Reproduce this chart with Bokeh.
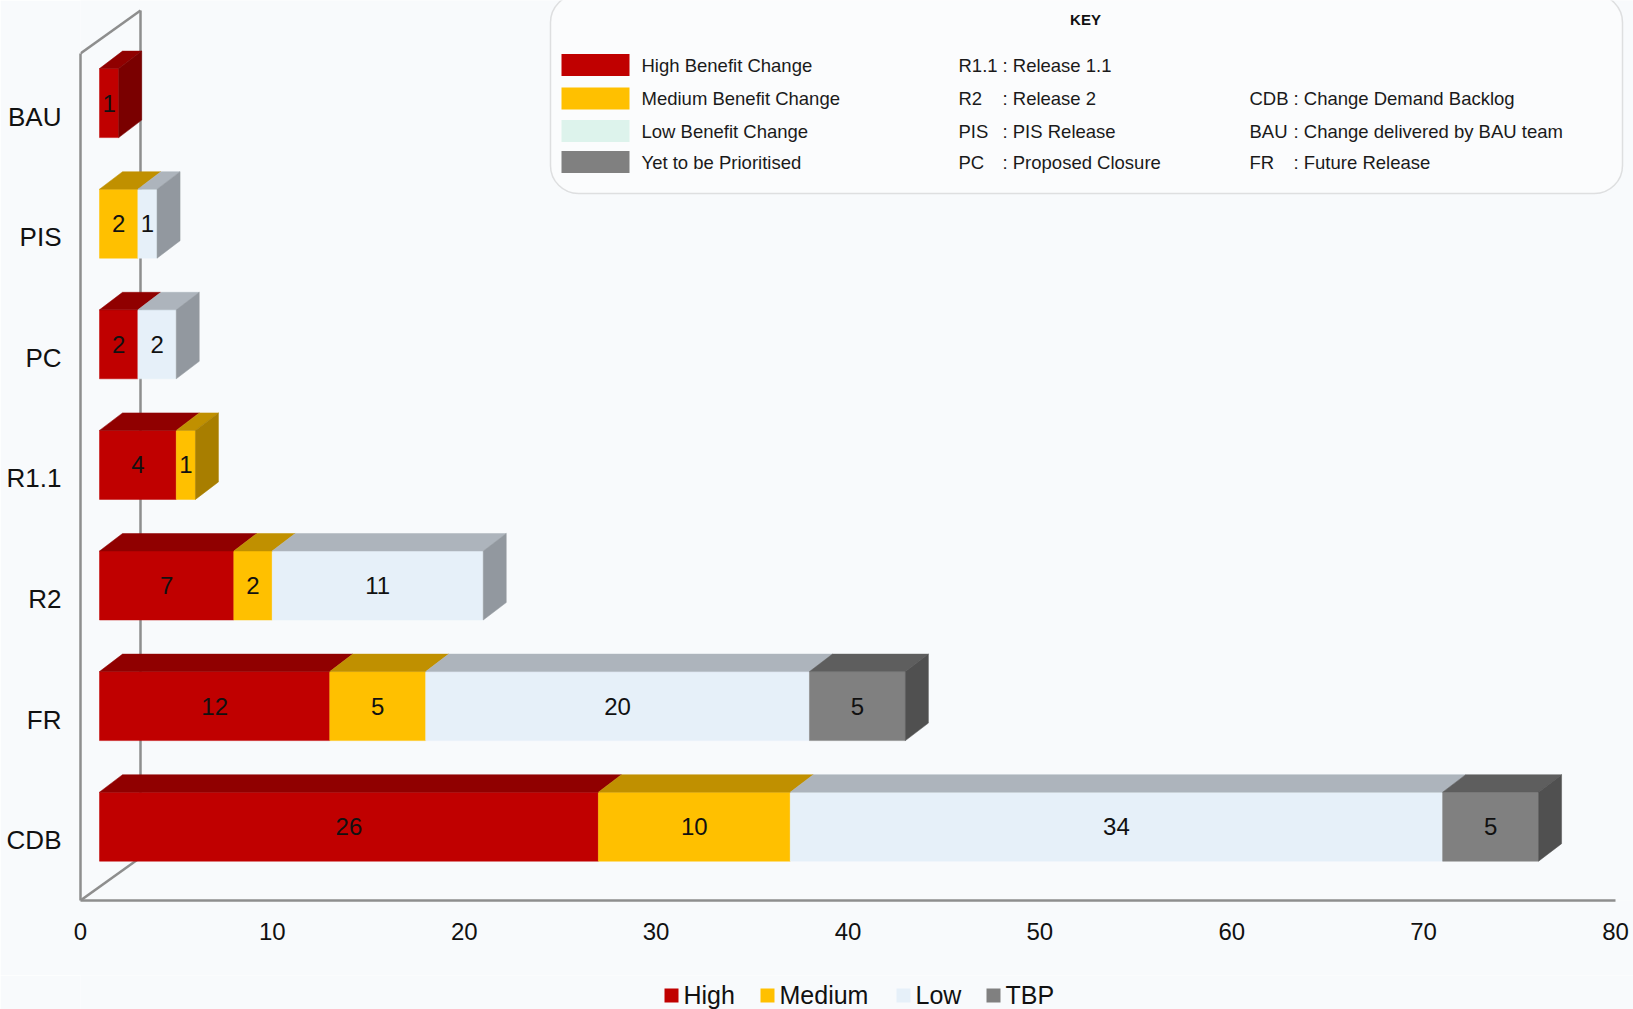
from bokeh.plotting import figure
from bokeh.layouts import column
from bokeh.models import Range1d, FixedTicker, ColumnDataSource, BoxAnnotation
from bokeh.core.properties import value
from bokeh.embed import file_html
from bokeh.resources import INLINE

# ---------------- data ----------------
categories = ["BAU", "PIS", "PC", "R1.1", "R2", "FR", "CDB"]   # top to bottom
high   = [1, 0, 2, 4, 7, 12, 26]
medium = [0, 2, 0, 1, 2, 5, 10]
low    = [0, 1, 2, 0, 11, 20, 34]
tbp    = [0, 0, 0, 0, 0, 5, 5]
series_names = ["High", "Medium", "Low", "TBP"]
x_ticks = [0, 10, 20, 30, 40, 50, 60, 70, 80]

key_swatch_labels = ["High Benefit Change", "Medium Benefit Change",
                     "Low Benefit Change", "Yet to be Prioritised"]
key_abbr_1 = ["R1.1", "R2", "PIS", "PC"]
key_desc_1 = ["Release 1.1", "Release 2", "PIS Release", "Proposed Closure"]
key_abbr_2 = ["CDB", "BAU", "FR"]
key_desc_2 = ["Change Demand Backlog", "Change delivered by BAU team", "Future Release"]

# ---------------- styles ----------------
front_colors = ["#C00000", "#FFC000", "#E6F0F9", "#808080"]
top_colors   = ["#900000", "#C09000", "#ADB4BC", "#5E5E5E"]
side_colors  = ["#7A0000", "#A87E00", "#92989F", "#505050"]
key_colors   = ["#C00000", "#FFC000", "#DDF3EC", "#808080"]
BG = "#F8FAFC"
FONT = value("Liberation Sans")
LINE = "#8E8E8E"

W = 1633
H_MAIN = 975
H_LEG = 34
FRAME_L = 80          # px (value 0)
FRAME_B = 900         # px (floor)
PX_X = (1615 - 80) / 80.0   # px per value unit
PX_Y = 120.6                # px per category step
x_end = (W - FRAME_L) / PX_X
y_start = -0.5
y_end = y_start + FRAME_B / PX_Y


def X(sx):
    return (sx - FRAME_L) / PX_X


def Y(sy):
    return y_start + (FRAME_B - sy) / PX_Y


# 3D offsets (data units)
bx, by = 19 / PX_X, 13.5 / PX_Y          # bar front face offset from the front plane
ddx, ddy = 23 / PX_X, 17.5 / PX_Y        # bar depth
hh = 34.5 / PX_Y                          # half bar height
wdx, wdy = 60 / PX_X, 43 / PX_Y           # wall depth
front_top = Y(53)

p = figure(width=W, height=H_MAIN, output_backend="svg", toolbar_location=None,
           x_range=Range1d(0, x_end), y_range=Range1d(y_start, y_end),
           min_border_left=FRAME_L, min_border_right=0, min_border_top=0,
           min_border_bottom=H_MAIN - FRAME_B)
p.background_fill_color = BG
p.border_fill_color = BG
p.outline_line_color = None
p.grid.visible = False

# axes (front plane)
n = len(categories)
ypos = [n - 1 - k for k in range(n)]
p.xaxis.ticker = FixedTicker(ticks=x_ticks)
p.yaxis.ticker = FixedTicker(ticks=list(range(n)))
p.yaxis.major_label_overrides = {ypos[k]: categories[k] for k in range(n)}
p.xaxis.bounds = (0, x_ticks[-1])
p.yaxis.bounds = (y_start, front_top)
for ax in (p.xaxis, p.yaxis):
    ax.axis_line_color = LINE
    ax.axis_line_width = 2.5
    ax.major_tick_line_color = None
    ax.minor_tick_line_color = None
    ax.major_label_text_font = "Liberation Sans"
    ax.major_label_text_color = "#111111"
p.xaxis.major_label_text_font_size = "24px"
p.xaxis.major_label_standoff = 16
p.yaxis.major_label_text_font_size = "26px"
p.yaxis.major_label_standoff = 13

# 3D wall lines (behind bars)
p.line([0, wdx], [front_top, front_top + wdy], line_color=LINE, line_width=2.5)
p.line([wdx, wdx], [y_start + wdy, front_top + wdy], line_color=LINE, line_width=2.5)
p.line([0, wdx], [y_start, y_start + wdy], line_color=LINE, line_width=2.5)

# bars
series = [high, medium, low, tbp]
starts = [0.0] * n
top_xs, top_ys, top_c = [], [], []
lab_x, lab_y, lab_t = [], [], []
last_seg = [None] * n
for si, vals in enumerate(series):
    left, right, bot, top = [], [], [], []
    for k in range(n):
        v = vals[k]
        s = starts[k]
        e = s + v
        if v > 0:
            yc = ypos[k] + by
            left.append(s + bx); right.append(e + bx)
            bot.append(yc - hh); top.append(yc + hh)
            top_xs.append([s + bx, e + bx, e + bx + ddx, s + bx + ddx])
            top_ys.append([yc + hh, yc + hh, yc + hh + ddy, yc + hh + ddy])
            top_c.append(top_colors[si])
            lab_x.append((s + e) / 2 + bx); lab_y.append(yc); lab_t.append(str(v))
            last_seg[k] = (si, e)
        starts[k] = e
    src = ColumnDataSource(dict(left=left, right=right, bottom=bot, top=top))
    p.quad(left="left", right="right", bottom="bottom", top="top", source=src,
           fill_color=front_colors[si], line_color=front_colors[si], line_width=0.5)

side_xs, side_ys, side_c = [], [], []
for k in range(n):
    si, e = last_seg[k]
    yc = ypos[k] + by
    side_xs.append([e + bx, e + bx + ddx, e + bx + ddx, e + bx])
    side_ys.append([yc - hh, yc - hh + ddy, yc + hh + ddy, yc + hh])
    side_c.append(side_colors[si])

p.patches(xs="xs", ys="ys", fill_color="c", line_color="c", line_width=0.5,
          source=ColumnDataSource(dict(xs=top_xs, ys=top_ys, c=top_c)))
p.patches(xs="xs", ys="ys", fill_color="c", line_color="c", line_width=0.5,
          source=ColumnDataSource(dict(xs=side_xs, ys=side_ys, c=side_c)))

p.text(x="x", y="y", text="t", source=ColumnDataSource(dict(x=lab_x, y=lab_y, t=lab_t)),
       text_font=FONT, text_font_size=value("24px"), text_color="#111111",
       text_align="center", text_baseline="middle")

# ---------------- KEY box ----------------
p.add_layout(BoxAnnotation(left=X(550), right=X(1622), top=Y(-6), bottom=Y(193),
                           border_radius=28, fill_color="white", fill_alpha=0.45,
                           line_color="#A0A0A0", line_width=1.5, level="underlay"))
p.text(x=[X(1085)], y=[Y(19)], text=["KEY"], text_font=FONT, text_font_size=value("15px"),
       text_font_style="bold", text_color="#111111", text_align="center", text_baseline="middle")
row_y = [Y(64.5), Y(98), Y(130.5), Y(161.5)]
p.quad(left=[X(561)] * 4, right=[X(629)] * 4,
       bottom=[y - 11 / PX_Y for y in row_y], top=[y + 11 / PX_Y for y in row_y],
       fill_color=key_colors, line_color=None)
ktxt = dict(text_font=FONT, text_font_size=value("18.5px"), text_color="#1a1a1a",
            text_align="left", text_baseline="middle")
p.text(x=[X(641)] * 4, y=row_y, text=key_swatch_labels, **ktxt)
p.text(x=[X(958)] * 4, y=row_y, text=key_abbr_1, **ktxt)
p.text(x=[X(1002)] * 4, y=row_y, text=[": " + d for d in key_desc_1], **ktxt)
p.text(x=[X(1249)] * 3, y=row_y[1:], text=key_abbr_2, **ktxt)
p.text(x=[X(1293)] * 3, y=row_y[1:], text=[": " + d for d in key_desc_2], **ktxt)

# ---------------- bottom legend strip (frame aligned with main plot) ----------------
leg = figure(width=W, height=H_LEG, output_backend="svg", toolbar_location=None,
             x_range=Range1d(0, x_end), y_range=Range1d(H_LEG, 0),
             min_border=0, min_border_left=FRAME_L,
             x_axis_type=None, y_axis_type=None)
leg.background_fill_color = BG
leg.border_fill_color = BG
leg.outline_line_color = None
leg.grid.visible = False
sq_left = [X(664), X(760), X(896), X(986)]
txt_left = [X(683), X(779), X(915), X(1005)]
sq_w = 14 / PX_X
leg.quad(left=sq_left, right=[v + sq_w for v in sq_left], top=[13] * 4, bottom=[27] * 4,
         fill_color=front_colors, line_color=None)
leg.text(x=txt_left, y=[19] * 4, text=series_names, text_font=FONT,
         text_font_size=value("25px"), text_color="#111111",
         text_align="left", text_baseline="middle")

layout = column(p, leg, spacing=0)
open("out.html", "w").write(file_html(layout, INLINE))
